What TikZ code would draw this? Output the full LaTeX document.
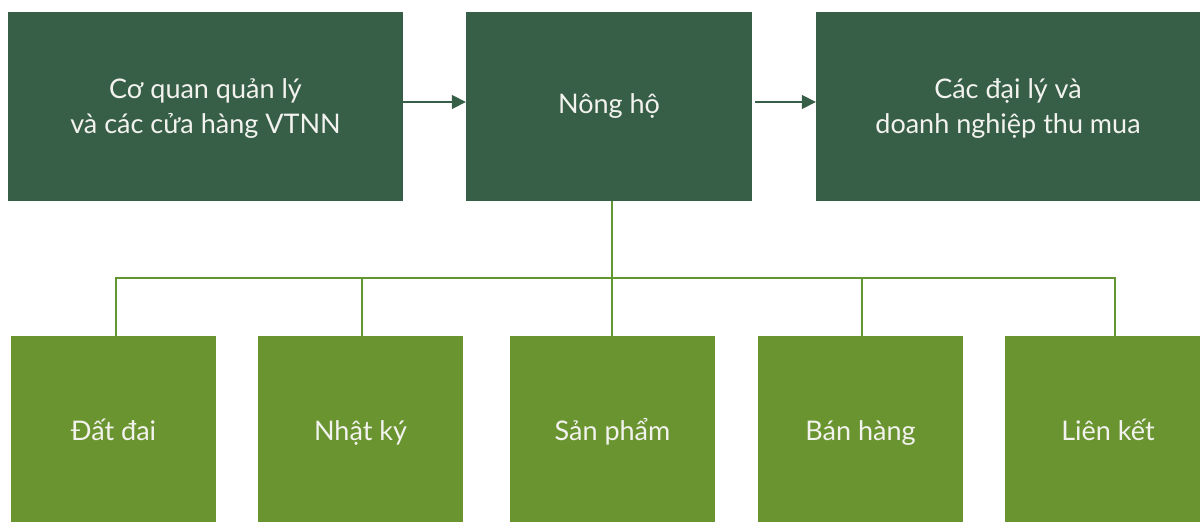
\documentclass[tikz,border=0pt]{standalone}
\usepackage{fontspec}
\setmainfont{Lato}
\usetikzlibrary{arrows.meta}
\definecolor{dkgreen}{RGB}{55,94,71}
\definecolor{ltgreen}{RGB}{106,148,48}
\definecolor{lngreen}{RGB}{98,150,50}
\definecolor{txt}{RGB}{242,242,238}
\begin{document}
\begin{tikzpicture}[x=1pt,y=-1pt,
  boxfont/.style={font=\fontsize{27}{35}\selectfont},
  topbox/.style={fill=dkgreen,draw=none,inner sep=0pt,text=txt,align=center,boxfont},
  lbl/.style={text=txt,inner sep=0pt,boxfont,text height=19.5pt,text depth=0pt},
  botbox/.style={fill=ltgreen,draw=none,inner sep=0pt,minimum width=205pt,minimum height=186pt},
  arr/.style={draw=dkgreen,line width=1.6pt,-{Triangle[length=14pt,width=14pt]}},
  conn/.style={draw=lngreen,line width=1.6pt}]
\useasboundingbox (0,0) rectangle (1200,522);
\node[topbox,minimum width=395pt,minimum height=189pt] (q) at (205.5,106.5) {};
\node[topbox,minimum width=286pt,minimum height=189pt] (n) at (609,106.5) {};
\node[topbox,minimum width=384pt,minimum height=189pt] (d) at (1008,106.5) {};
\node[topbox,anchor=base] (qt) at (205.5,133) {Cơ quan quản lý\\và các cửa hàng VTNN};
\node[lbl] (nt) at (609,104) {Nông hộ};
\node[topbox,anchor=base] (dt) at (1008,133) {Các đại lý và\\doanh nghiệp thu mua};
\node[botbox] (b1) at (113.5,429) {};
\node[botbox] (b2) at (360.5,429) {};
\node[botbox] (b3) at (612.5,429) {};
\node[botbox] (b4) at (860.5,429) {};
\node[botbox,minimum width=195pt] (b5) at (1102.5,429) {};
\node[lbl] (t1) at (113.5,431) {Đất đai};
\node[lbl] (t2) at (360.5,431) {Nhật ký};
\node[lbl] (t3) at (612.5,431) {Sản phẩm};
\node[lbl] (t4) at (860.5,431) {Bán hàng};
\node[lbl] (t5) at (1108,431) {Liên kết};
\coordinate (h) at (612,278);
\draw[arr] (q.east |- 0,102) -- (n.west |- 0,102);
\draw[arr] ([xshift=3pt]n.east |- 0,102) -- (d.west |- 0,102);
\draw[conn] (n.south -| h) -- (h);
\draw[conn] (b1.north -| 116,0) |- (h);
\draw[conn] (b2.north -| 362,0) |- (h);
\draw[conn] (b3.north -| h) -- (h);
\draw[conn] (b4.north -| 862,0) |- (h);
\draw[conn] (b5.north -| 1115,0) |- (h);
\end{tikzpicture}
\end{document}
